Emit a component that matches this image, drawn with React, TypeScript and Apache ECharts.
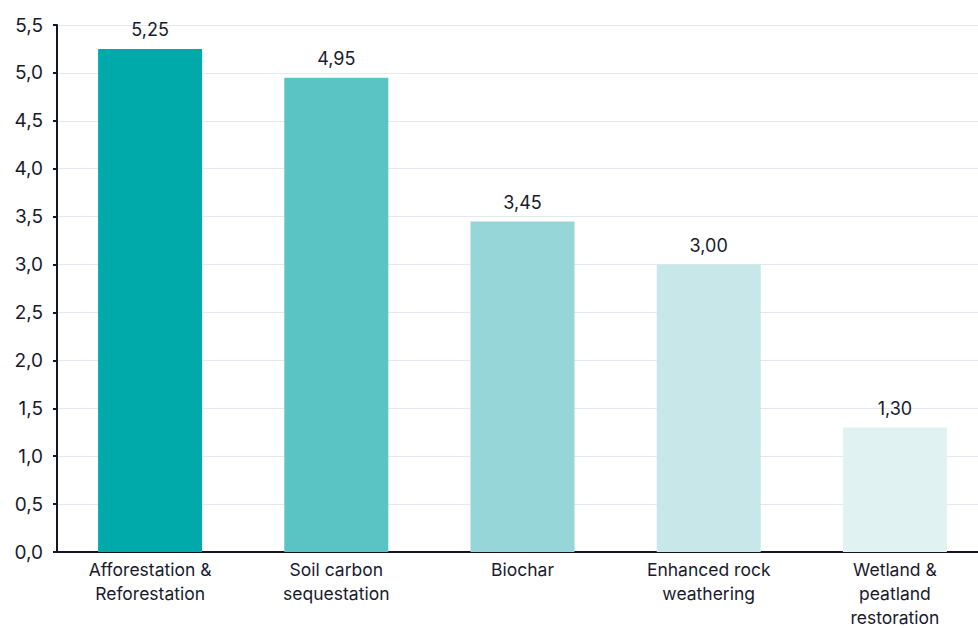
import React, { useEffect, useRef } from "react";
import * as echarts from "echarts";

const categories = [
  "Afforestation &\nReforestation",
  "Soil carbon\nsequestation",
  "Biochar",
  "Enhanced rock\nweathering",
  "Wetland &\npeatland\nrestoration",
];
const values = [5.25, 4.95, 3.45, 3.0, 1.3];
const barColors = ["#00A9AA", "#5AC3C4", "#96D6D8", "#C7E7E9", "#E0F2F2"];

const fmt = (v: number, d: number) => v.toFixed(d).replace(".", ",");

export default function App() {
  const ref = useRef<HTMLDivElement>(null);
  useEffect(() => {
    if (!ref.current) return;
    const chart = echarts.init(ref.current, undefined, { renderer: "svg" });
    chart.setOption({
      animation: false,
      textStyle: { fontFamily: "Inter, 'Noto Sans', sans-serif" },
      grid: {
        left: 57,
        top: 25,
        width: 931,
        height: 527,
        containLabel: false,
        outerBoundsMode: "none",
      },
      xAxis: {
        type: "category",
        data: categories,
        axisLine: { lineStyle: { color: "#14142B", width: 2 } },
        axisTick: { show: false },
        axisLabel: {
          color: "#1a1a2e",
          fontSize: 17.5,
          lineHeight: 24,
          margin: 5,
          interval: 0,
        },
      },
      yAxis: {
        type: "value",
        min: 0,
        max: 5.5,
        interval: 0.5,
        axisLine: { show: true, lineStyle: { color: "#14142B", width: 2 } },
        axisTick: { show: true, length: 4, lineStyle: { color: "#14142B", width: 2 } },
        splitLine: { lineStyle: { color: "#E4E9F1", width: 1 } },
        axisLabel: {
          color: "#1a1a2e",
          fontSize: 19,
          margin: 14,
          formatter: (v: number) => fmt(v, 1),
        },
      },
      series: [
        {
          type: "bar",
          barWidth: 104,
          data: values.map((v, i) => ({ value: v, itemStyle: { color: barColors[i] } })),
          label: {
            show: true,
            position: "top",
            distance: 10,
            color: "#1a1a2e",
            fontSize: 18,
            formatter: (p: any) => fmt(p.value, 2),
          },
        },
      ],
    });
    return () => chart.dispose();
  }, []);
  return <div ref={ref} style={{ width: 978, height: 628, position: "absolute", left: 0, top: 0 }} />;
}
